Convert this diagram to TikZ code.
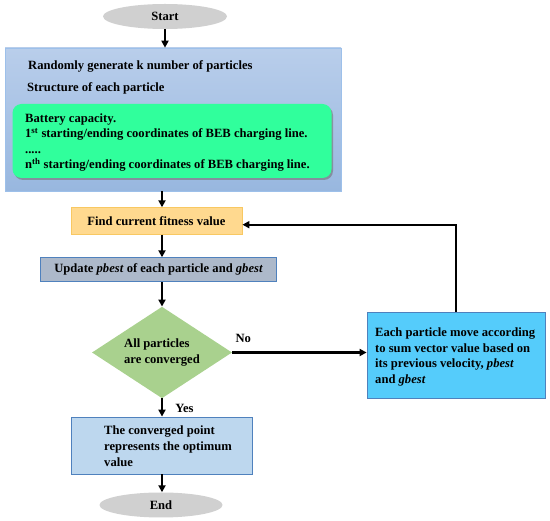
\documentclass[tikz,border=0pt]{standalone}
\usepackage{fontspec}
\setmainfont{Liberation Serif}
\usetikzlibrary{shapes.geometric,arrows.meta,shadows}
\definecolor{ellgray}{HTML}{D0D0D0}
\definecolor{bigtop}{HTML}{B9CEEB}
\definecolor{bigbot}{HTML}{98B7DF}
\definecolor{bigline}{HTML}{9DC0EA}
\definecolor{greenfill}{HTML}{30FF9C}
\definecolor{findfill}{HTML}{FFD98F}
\definecolor{findline}{HTML}{F8C862}
\definecolor{updfill}{HTML}{ADB9CA}
\definecolor{boxline}{HTML}{4F81BD}
\definecolor{decfill}{HTML}{A9D18E}
\definecolor{movefill}{HTML}{55CCFB}
\definecolor{resfill}{HTML}{BDD7EE}
\tikzset{
  txt/.style={font=\bfseries\fontsize{12.6}{15.5}\selectfont, text=black},
  ell/.style={ellipse, fill=ellgray, draw=none, minimum width=124pt, minimum height=25pt, inner sep=0pt, txt},
  boxbase/.style={rectangle, inner sep=0pt, txt},
  arr/.style={line width=2.1pt, -{Triangle[length=7pt,width=7pt]}},
}
\begin{document}
\begin{tikzpicture}[x=1pt,y=-1pt]
\useasboundingbox (0,0) rectangle (550,521);
% start
\node[ell] (start) at (165,16.5) {Start};
% big box
\node[boxbase, draw=bigline, line width=0.6pt, top color=bigtop, bottom color=bigbot,
      minimum width=336pt, minimum height=143pt] (big) at (173,119.5) {};
\node[txt, anchor=base west, inner sep=0pt] (t1) at (28,70) {Randomly generate k number of particles};
\node[txt, anchor=base west, inner sep=0pt] (t2) at (27,92) {Structure of each particle};
\node[boxbase, rounded corners=9pt, fill=greenfill,
      drop shadow={shadow xshift=1.5pt, shadow yshift=-2pt, fill=black!55, opacity=0.6},
      minimum width=319pt, minimum height=74pt] (green) at (172,141) {};
\node[txt, anchor=north west, align=left, inner sep=0pt,
      font=\bfseries\fontsize{12.6}{15.4}\selectfont] (gtext) at (25,113.5)
  {Battery capacity.\\
   1\textsuperscript{st} starting/ending coordinates of BEB charging line.\\
   .....\\
   n\textsuperscript{th} starting/ending coordinates of BEB charging line.};
% find
\node[boxbase, fill=findfill, draw=findline, line width=0.8pt,
      minimum width=171pt, minimum height=26.6pt] (find) at (156.5,221) {Find current fitness value};
% update
\node[boxbase, fill=updfill, draw=boxline, line width=0.8pt,
      minimum width=236pt, minimum height=24pt] (update) at (158.6,269.7)
      {Update \textit{pbest} of each particle and \textit{gbest}};
% decision
\node[diamond, fill=decfill, draw=none, minimum width=140pt, minimum height=91.5pt, aspect=1.53,
      inner sep=0pt, txt, align=left] (dec) at (162,352.5) {All particles\\are converged};
% move
\node[boxbase, fill=movefill, draw=boxline, line width=0.8pt,
      minimum width=178pt, minimum height=86pt] (move) at (456,355) {};
\node[txt, anchor=north west, align=left, inner sep=0pt] (mtext) at (375,328)
  {Each particle move according\\to sum vector value based on\\its previous velocity, \textit{pbest}\\and \textit{gbest}};
% result
\node[boxbase, fill=resfill, draw=boxline, line width=0.8pt,
      minimum width=181pt, minimum height=57pt] (res) at (161.5,445.5) {};
\node[txt, anchor=north west, align=left, inner sep=0pt,
      font=\bfseries\fontsize{12.6}{16}\selectfont] (rtext) at (104,426)
  {The converged point\\represents the optimum\\value};
% end
\node[ell, minimum width=123pt] (end) at (161,505) {End};
% connectors
\draw[arr] (start.south) -- (start.south |- big.north);
\draw[arr] (big.south -| dec.north) -- (find.north -| dec.north);
\draw[arr] (find.south -| dec.north) -- (update.north -| dec.north);
\draw[arr] (update.south -| dec.north) -- (dec.north);
\draw[arr] (dec.east) -- node[txt, anchor=base west, pos=0, xshift=-1pt, yshift=10pt] (no) {No} (dec.east -| move.west);
\draw[arr] (dec.south) -- node[txt, anchor=base west, pos=0, xshift=9pt, yshift=-14pt] (yes) {Yes} (res.north -| dec.south);
\draw[arr] (res.south -| dec.south) -- (end.north -| dec.south);
\draw[arr] (move.north) |- ([yshift=-3.7pt]find.east);
\end{tikzpicture}
\end{document}
